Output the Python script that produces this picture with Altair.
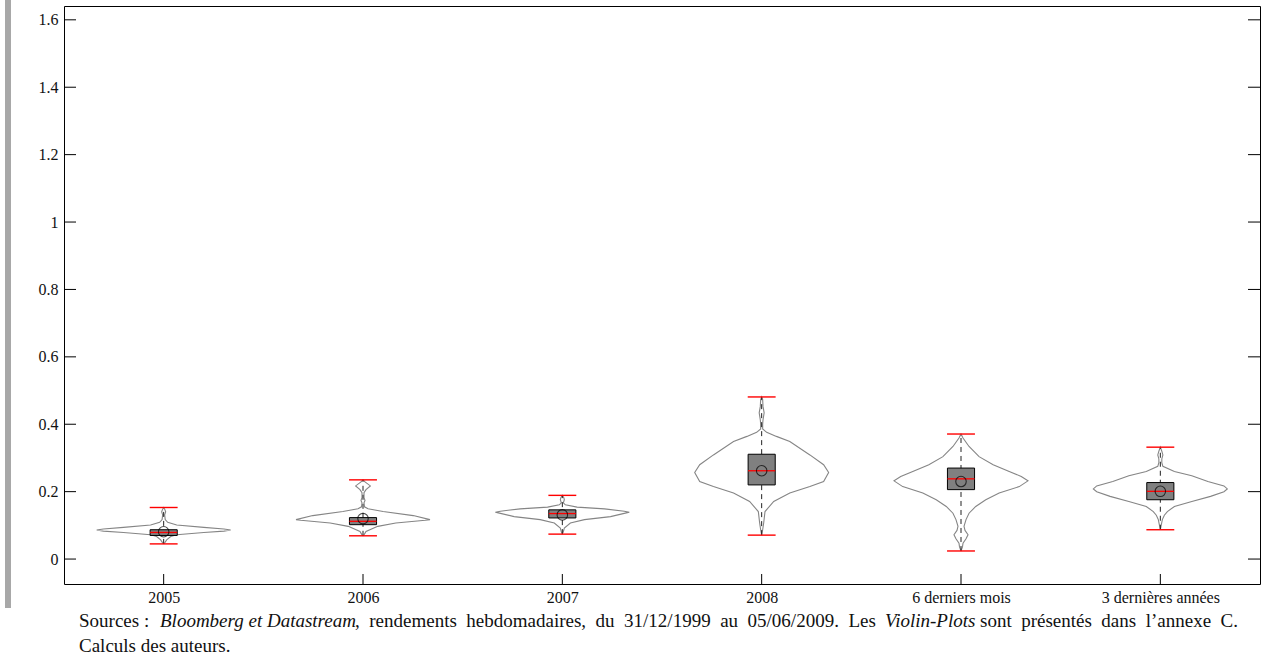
import altair as alt
import pandas as pd

# Categories on the horizontal axis
CATEGORIES = ["2005", "2006", "2007", "2008", "6 derniers mois", "3 dernières années"]

# Box-plot statistics per category
MINS = [0.045, 0.069, 0.074, 0.071, 0.024, 0.087]
MAXS = [0.153, 0.235, 0.189, 0.481, 0.371, 0.332]
Q1 = [0.070, 0.102, 0.122, 0.220, 0.206, 0.176]
Q3 = [0.087, 0.123, 0.146, 0.311, 0.270, 0.227]
MEDIANS = [0.079, 0.112, 0.135, 0.262, 0.238, 0.201]
MEANS = [0.081, 0.120, 0.131, 0.262, 0.230, 0.201]

# Kernel density profiles (value, relative density) for each violin
V2005 = [0.045, 0.048, 0.057, 0.067, 0.072, 0.079, 0.083, 0.086, 0.089, 0.094, 0.101, 0.109, 0.117, 0.131, 0.140, 0.148, 0.153]
D2005 = [0, 0.015, 0.045, 0.105, 0.195, 0.60, 0.90, 1.0, 0.90, 0.60, 0.195, 0.06, 0.023, 0.015, 0.03, 0.015, 0]

V2006 = [0.069, 0.072, 0.082, 0.097, 0.107, 0.115, 0.117, 0.129, 0.141, 0.149, 0.155, 0.167, 0.174, 0.182, 0.197, 0.206, 0.217, 0.229, 0.235]
D2006 = [0, 0.015, 0.045, 0.22, 0.49, 0.93, 1.0, 0.75, 0.30, 0.075, 0.022, 0.015, 0.03, 0.015, 0.015, 0.045, 0.11, 0.03, 0]

V2007 = [0.074, 0.081, 0.092, 0.107, 0.117, 0.126, 0.137, 0.139, 0.142, 0.149, 0.154, 0.161, 0.167, 0.176, 0.182, 0.189]
D2007 = [0, 0.015, 0.03, 0.12, 0.33, 0.72, 0.955, 1.0, 0.925, 0.63, 0.22, 0.045, 0.015, 0.03, 0.022, 0]

V2008 = [0.071, 0.087, 0.107, 0.141, 0.171, 0.196, 0.215, 0.230, 0.257, 0.280, 0.309, 0.349, 0.364, 0.376, 0.386, 0.400, 0.413, 0.434, 0.453, 0.473, 0.481]
D2008 = [0, 0.015, 0.03, 0.05, 0.18, 0.42, 0.72, 0.925, 1.0, 0.925, 0.72, 0.42, 0.22, 0.075, 0.015, 0.015, 0.02, 0.037, 0.02, 0.015, 0]

V6M = [0.024, 0.036, 0.047, 0.060, 0.072, 0.085, 0.097, 0.117, 0.136, 0.156, 0.176, 0.196, 0.215, 0.232, 0.245, 0.260, 0.280, 0.304, 0.334, 0.359, 0.371]
D6M = [0, 0.022, 0.03, 0.075, 0.105, 0.06, 0.045, 0.075, 0.12, 0.22, 0.37, 0.57, 0.87, 1.0, 0.9, 0.72, 0.48, 0.27, 0.12, 0.03, 0]

V3Y = [0.087, 0.102, 0.117, 0.130, 0.141, 0.156, 0.171, 0.186, 0.200, 0.208, 0.217, 0.230, 0.247, 0.260, 0.275, 0.286, 0.297, 0.309, 0.320, 0.332]
D3Y = [0, 0.015, 0.03, 0.06, 0.105, 0.21, 0.47, 0.75, 0.95, 1.0, 0.95, 0.71, 0.47, 0.21, 0.038, 0.022, 0.022, 0.038, 0.022, 0]

PROFILES = [(V2005, D2005), (V2006, D2006), (V2007, D2007), (V2008, D2008), (V6M, D6M), (V3Y, D3Y)]

Y_TICKS = [0, 0.2, 0.4, 0.6, 0.8, 1.0, 1.2, 1.4, 1.6]

# Layout
W, H = 1196, 578
VIOLIN_HALF = 0.336   # half width of a violin at its densest point (category units)
BOX_HALF = 0.068
CAP_HALF = 0.07
SERIF = "Liberation Serif"
NB = "\u00a0"        # non-breaking space, keeps wide word spacing in the note

x_scale = alt.Scale(domain=[-0.5, 5.5], nice=False, zero=False)
y_scale = alt.Scale(domain=[-0.074, 1.641], nice=False, zero=False)

# Violin outlines: right side going up, then left side coming back down
rows = []
for i, (vals, dens) in enumerate(PROFILES):
    n = len(vals)
    for k in range(n):
        rows.append({"cat": CATEGORIES[i], "o": k, "v": vals[k], "x": i + VIOLIN_HALF * dens[k]})
    for k in range(n):
        j = n - 1 - k
        rows.append({"cat": CATEGORIES[i], "o": n + k, "v": vals[j], "x": i - VIOLIN_HALF * dens[j]})
violin_df = pd.DataFrame(rows)

stats = pd.DataFrame({
    "cat": CATEGORIES,
    "i": list(range(len(CATEGORIES))),
    "mn": MINS, "mx": MAXS, "q1": Q1, "q3": Q3, "med": MEDIANS, "mean": MEANS,
})
stats["bl"] = stats["i"] - BOX_HALF
stats["br"] = stats["i"] + BOX_HALF
stats["cl"] = stats["i"] - CAP_HALF
stats["cr"] = stats["i"] + CAP_HALF

label_list = "[" + ",".join("'" + c + "'" for c in CATEGORIES) + "]"

x_axis = alt.Axis(values=list(range(len(CATEGORIES))), labelExpr=label_list + "[datum.value]",
                  ticks=False, domain=False, grid=False, title=None, labelFont=SERIF,
                  labelFontSize=16, labelColor="#111", labelPadding=5)
y_axis = alt.Axis(values=Y_TICKS, format="~g", ticks=False, domain=False, grid=False, title=None,
                  labelFont=SERIF, labelFontSize=16, labelColor="#111", labelPadding=6)


def X(field):
    return alt.X(field, scale=x_scale, axis=x_axis)


def Y(field):
    return alt.Y(field, scale=y_scale, axis=y_axis)


violins = alt.Chart(violin_df).mark_line(color="#858585", strokeWidth=1.1).encode(
    x=X("x:Q"), y=Y("v:Q"), detail="cat:N", order="o:Q",
)

base = alt.Chart(stats)

whiskers = base.mark_rule(color="#222", strokeWidth=1, strokeDash=[5, 4]).encode(
    x=X("i:Q"), y=Y("mn:Q"), y2="mx:Q",
)

boxes = base.mark_rect(fill="#808080", stroke="black", strokeWidth=1).encode(
    x=X("bl:Q"), x2="br:Q", y=Y("q1:Q"), y2="q3:Q",
)

median_lines = base.mark_rule(color="#ff0000", strokeWidth=1.3).encode(
    x=X("bl:Q"), x2="br:Q", y=Y("med:Q"),
)

mean_pts = base.mark_point(shape="circle", size=110, filled=False, color="black", strokeWidth=1.1).encode(
    x=X("i:Q"), y=Y("mean:Q"),
)

cap_hi = base.mark_rule(color="#ff0000", strokeWidth=1.4).encode(
    x=X("cl:Q"), x2="cr:Q", y=Y("mx:Q"),
)
cap_lo = base.mark_rule(color="#ff0000", strokeWidth=1.4).encode(
    x=X("cl:Q"), x2="cr:Q", y=Y("mn:Q"),
)

# Inward tick marks on the frame
ytick_df = pd.DataFrame({"v": Y_TICKS})
yt_left = alt.Chart(ytick_df).mark_rule(color="black", strokeWidth=1).encode(
    y=Y("v:Q"), x=alt.value(0), x2=alt.value(12))
yt_right = alt.Chart(ytick_df).mark_rule(color="black", strokeWidth=1).encode(
    y=Y("v:Q"), x=alt.value(W - 12), x2=alt.value(W))
xtick_df = pd.DataFrame({"i": list(range(len(CATEGORIES)))})
xt_bottom = alt.Chart(xtick_df).mark_rule(color="black", strokeWidth=1).encode(
    x=X("i:Q"), y=alt.value(H - 10), y2=alt.value(H))

# Page margin bar on the left
margin_bar = alt.Chart(pd.DataFrame({"a": [0]})).mark_rect(color="#a8a8a8").encode(
    x=alt.value(-59), x2=alt.value(-53), y=alt.value(-6), y2=alt.value(602))


# Source note below the chart
def note(text, x, y, italic=False):
    return alt.Chart(pd.DataFrame({"t": [text]})).mark_text(
        align="left", baseline="alphabetic", font=SERIF, fontSize=19,
        fontStyle="italic" if italic else "normal", color="#111",
    ).encode(text="t:N", x=alt.value(x), y=alt.value(y))


def spaced(s):
    return s.replace(" ", " " + NB)


notes = [
    note("Sources :", 15, 620.5),
    note("Bloomberg et Datastream", 96, 620.5, italic=True),
    note(spaced(", rendements hebdomadaires, du 31/12/1999 au 05/06/2009. Les"), 291, 620.5),
    note("Violin-Plots", 821, 620.5, italic=True),
    note(spaced("sont présentés dans l’annexe C."), 916, 620.5),
    note("Calculs des auteurs.", 15, 645.5),
]

chart = alt.layer(
    margin_bar, violins, whiskers, boxes, median_lines, mean_pts, cap_hi, cap_lo,
    yt_left, yt_right, xt_bottom, *notes,
).properties(
    width=W, height=H,
    autosize=alt.AutoSizeParams(type="none"),
    padding={"left": 64, "top": 6, "right": 6, "bottom": 75},
    background="white",
).configure_view(
    stroke="black", strokeWidth=1
).configure_axis(
    labelFont=SERIF, labelFontSize=16
)

chart.save("out.html", embed_options={"renderer": "svg", "actions": False})
